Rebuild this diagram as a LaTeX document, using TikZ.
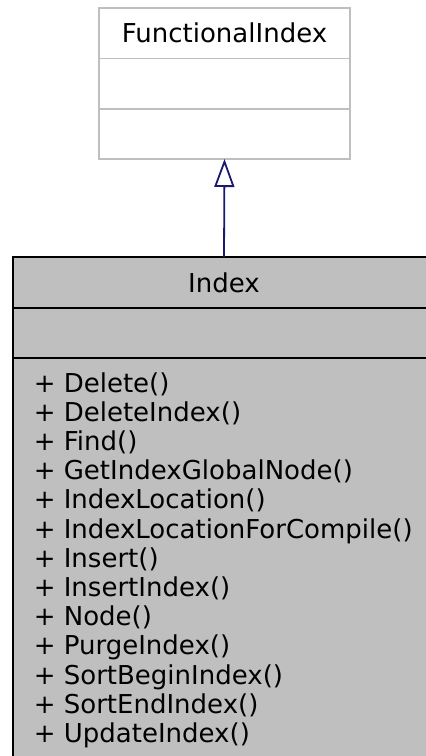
\documentclass[tikz,border=0pt]{standalone}
\usepackage{fontspec}
\setmainfont{DejaVu Sans}
\usetikzlibrary{arrows.meta}
\definecolor{edgeblue}{HTML}{191970}
\definecolor{boxgray}{HTML}{BFBFBF}
\tikzset{
  part/.style={draw,line width=1.6pt,inner sep=0pt,outer sep=0pt,anchor=north},
  basepart/.style={part,draw=boxgray,fill=white,minimum width=251},
  thispart/.style={part,draw=black,fill=boxgray,minimum width=422},
  method/.style={anchor=base west,inner sep=0pt},
  inherit/.style={draw=edgeblue,line width=1.8pt,-{Triangle[open,length=28pt,width=20pt,fill=white]}}
}
\begin{document}
\begin{tikzpicture}[x=1pt,y=-1pt,font=\fontsize{26pt}{29.2pt}\selectfont]
\useasboundingbox (0,0) rectangle (426,756);
\clip (0,0) rectangle (426,756);
% base class
\node[basepart,minimum height=50.4] (fi-name) at (224.5,8) {FunctionalIndex};
\node[basepart,minimum height=50.3] (fi-attr) at (fi-name.south) {};
\node[basepart,minimum height=50.3] (fi-ops) at (fi-attr.south) {};
% this class
\node[thispart,minimum height=51] (idx-name) at (224,257) {Index};
\node[thispart,minimum height=50] (idx-attr) at (idx-name.south) {};
\node[thispart,minimum height=404] (idx-ops) at (idx-attr.south) {};
\foreach \m [count=\i from 0] in {Delete,DeleteIndex,Find,GetIndexGlobalNode,IndexLocation,%
  IndexLocationForCompile,Insert,InsertIndex,Node,PurgeIndex,SortBeginIndex,SortEndIndex,UpdateIndex}
  \node[method] (m\i) at (33.6,392+29.2*\i) {+ \m()};
\draw[inherit] (idx-name.north) -- (fi-ops.south);
\end{tikzpicture}
\end{document}
